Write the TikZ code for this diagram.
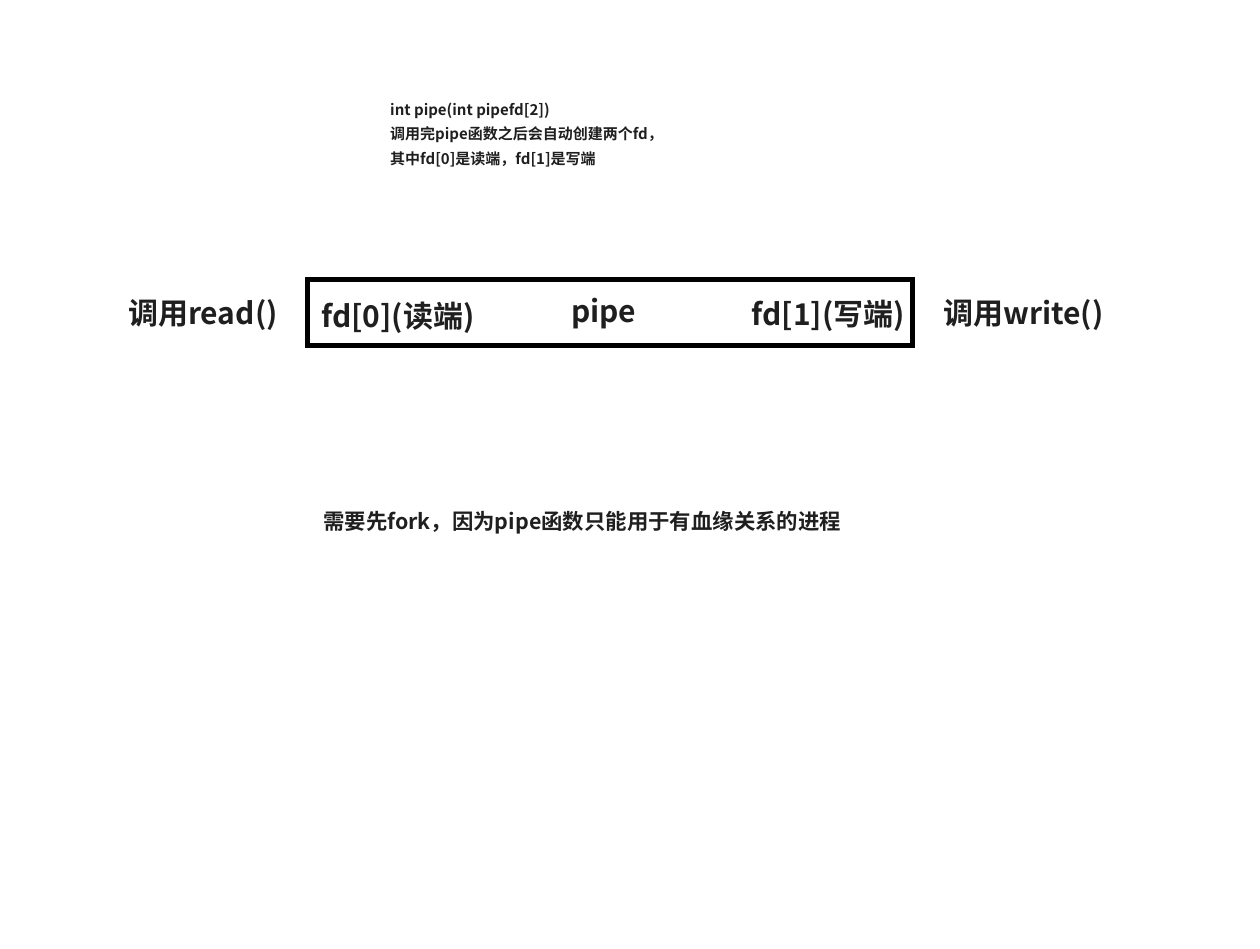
\documentclass[tikz,border=0pt]{standalone}
\usepackage{fontspec}
\newfontfamily\cjk{Noto Sans CJK SC Bold}
\definecolor{ink}{HTML}{1F1F1F}
\begin{document}
\begin{tikzpicture}[x=1pt,y=1pt,
  txt/.style={inner sep=0pt,anchor=base west,text=ink,font=\cjk},
  small/.style={txt,font=\cjk\fontsize{15}{18}\selectfont},
  big/.style={txt,font=\cjk\fontsize{30}{36}\selectfont},
  mid/.style={txt,font=\cjk\fontsize{21.4}{25}\selectfont},
  pipebox/.style={draw=black,line width=5pt}]
\useasboundingbox (0,0) rectangle (1260,-949);
\node[small] (l1) at (390,-116) {int pipe(int pipefd[2])};
\node[small] (l2) at (390,-140) {调用完pipe函数之后会自动创建两个fd，};
\node[small] (l3) at (390,-165) {其中fd[0]是读端，fd[1]是写端};
\node[pipebox,minimum width=605pt,minimum height=66pt,inner sep=0pt] (box) at (610,-312.5) {};
\node[big] (rd) at (128,-324) {调用read()};
\node[big] (fd0) at (321,-327) {fd[0](读端)};
\node[big] (pp) at (571,-323) {pipe};
\node[big,anchor=base east] (fd1) at (905,-326) {fd[1](写端)};
\node[big] (wr) at (943,-324) {调用write()};
\node[mid] (fork) at (323,-529) {需要先fork，因为pipe函数只能用于有血缘关系的进程};
\end{tikzpicture}
\end{document}
